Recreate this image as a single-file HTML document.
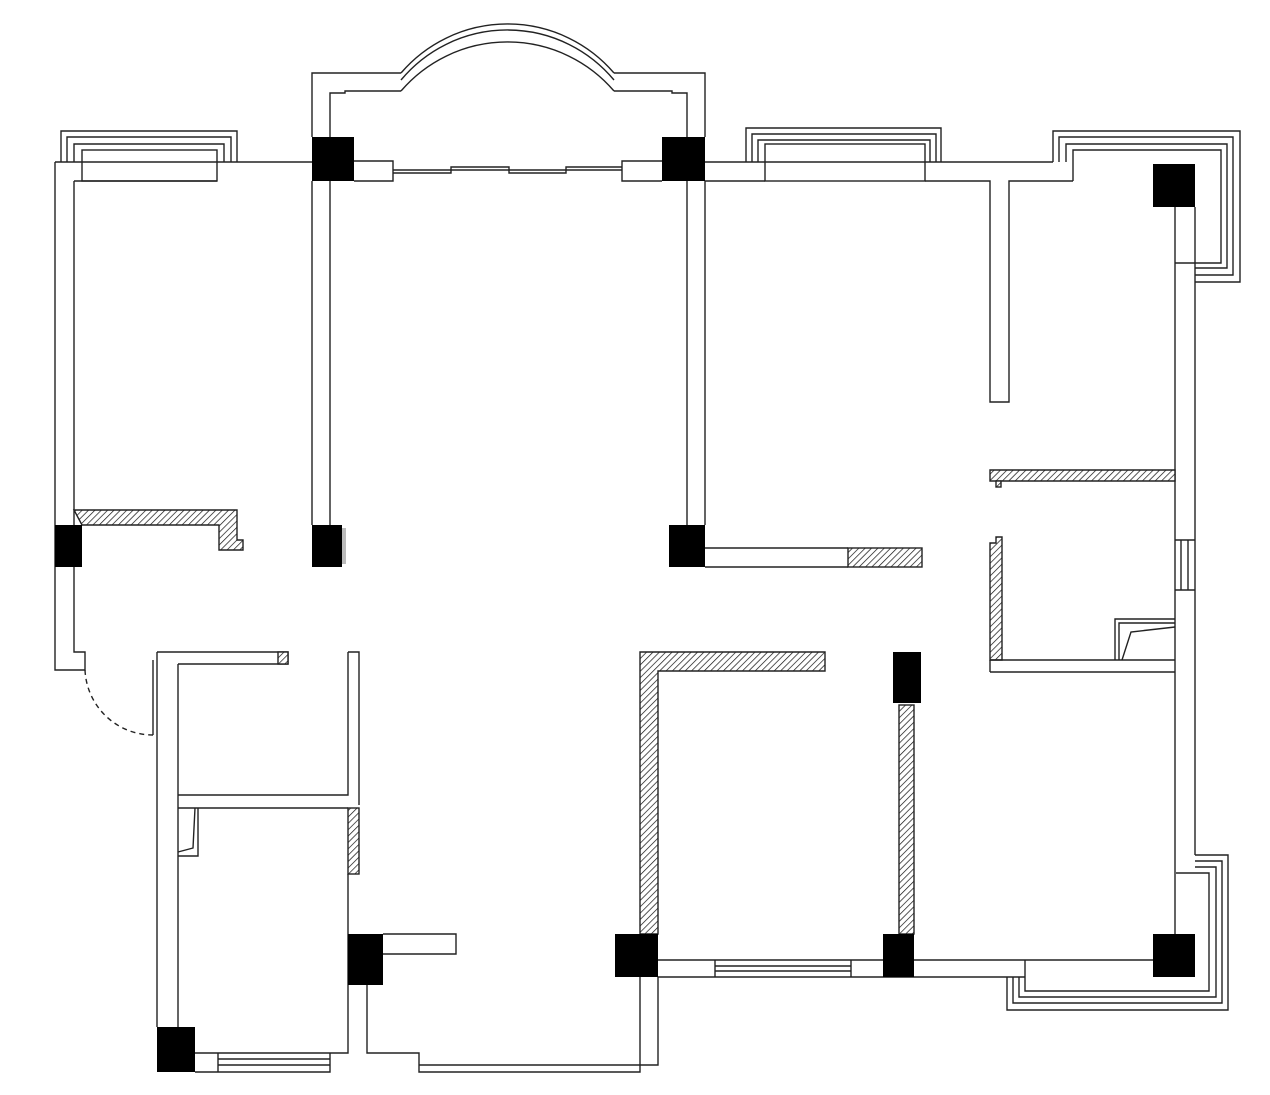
<!DOCTYPE html>
<html><head><meta charset="utf-8"><style>html,body{margin:0;padding:0;background:#fff}svg{display:block}</style></head>
<body>
<svg width="1270" height="1095" viewBox="0 0 1270 1095" xmlns="http://www.w3.org/2000/svg">
<defs>
<pattern id="h" width="4.5" height="4.5" patternUnits="userSpaceOnUse" patternTransform="rotate(45)">
<rect width="4.5" height="4.5" fill="#fff"/><line x1="0" y1="0" x2="0" y2="4.5" stroke="#111" stroke-width="1.4"/>
</pattern>
</defs>
<g fill="none" stroke="#222" stroke-width="1.4">
<path d="M61 162V131H237V162M67 162V137H231V162M74 162V144H224V162"/>
<rect x="82" y="150" width="135" height="31" fill="#fff"/>
<path d="M55 162H312M217 181H74M55 162V670H85V652H74V567M74 525V181"/>
<path d="M74 510H237V540H243V550H219V525H82Z" fill="url(#h)"/>
<path d="M312 137V73H401M614 73H705V137M330 137V93H345V91H401M614 91H672V93H687V137"/>
<path d="M401 73A140.2 140.2 0 0 1 614 73M401 80A138.4 138.4 0 0 1 614 80M401 91A140.2 140.2 0 0 1 614 91"/>
<path d="M354 161H393V181H354M662 161H622V181H662"/>
<path d="M393 170H451V167H509V170H566V167H622M393 173H451V170H509V173H566V170H622"/>
<path d="M312 181V525M330 181V525M687 181V525M705 181V525"/>
<path d="M705 548H848M705 567H848"/>
<rect x="848" y="548" width="74" height="19" fill="url(#h)"/>
<path d="M746 162V128H941V162M752 162V134H936V162M758 162V140H930V162"/>
<rect x="765" y="144" width="160" height="37" fill="#fff"/>
<path d="M705 162H1053M705 181H765M925 181H990V402H1009V181H1073"/>
<path d="M1053 162V131H1240V282H1195M1059 162V137H1233V275H1195M1066 162V144H1227V268H1195"/>
<path d="M1073 181V150H1221V263H1175"/>
<path d="M1175 207V960M1195 207V855"/>
<path d="M1175 540H1195M1175 590H1195M1181 540V590M1188 540V590"/>
<path d="M990 470H1175V481H990Z" fill="url(#h)"/>
<rect x="996" y="481" width="5" height="6" fill="url(#h)"/>
<path d="M990 660V543H996V537H1002V660Z" fill="url(#h)"/>
<path d="M990 660H1175M990 672H1175M990 660V672"/>
<path d="M1115 660V619H1175M1119 660V623H1175M1122 660L1131 632L1175 627"/>
<path d="M1195 855H1228V1010H1007V977M1195 861H1222V1003H1013V977M1195 867H1216V997H1019V977M1176 873H1209V991H1025V960"/>
<path d="M640 652H825V671H658V934H640Z" fill="url(#h)"/>
<rect x="899" y="705" width="15" height="229" fill="url(#h)"/>
<path d="M658 960H1153M658 977H1025M715 960V977M851 960V977M715 966H851M715 971H851"/>
<path d="M640 977V1072H419V1053H367V985M658 977V1065H419"/>
<path d="M383 934H456V954H383"/>
<path d="M178 664V1027M157 652V1027M157 652H288V664H178M348 652H359V805M348 652V795H178M178 808H348M348 874V985"/>
<rect x="278" y="652" width="10" height="12" fill="url(#h)"/>
<rect x="348" y="808" width="11" height="66" fill="url(#h)"/>
<path d="M178 856H198V808M178 852L193 848L195 808"/>
<path d="M153 660V735"/>
<path d="M195 1053H348V985M195 1072H330V1053M218 1053V1072M218 1059H330M218 1065H330"/>
<path d="M85 670A68 68 0 0 0 153 735" stroke-dasharray="5 4"/>
</g>
<g fill="#000">
<rect x="312" y="137" width="42" height="44"/>
<rect x="662" y="137" width="43" height="44"/>
<rect x="1153" y="164" width="42" height="43"/>
<rect x="55" y="525" width="27" height="42"/>
<rect x="312" y="525" width="30" height="42"/>
<rect x="669" y="525" width="36" height="42"/>
<rect x="893" y="652" width="28" height="51"/>
<rect x="615" y="934" width="43" height="43"/>
<rect x="883" y="934" width="31" height="43"/>
<rect x="1153" y="934" width="42" height="43"/>
<rect x="348" y="934" width="35" height="51"/>
<rect x="157" y="1027" width="38" height="45"/>
</g>
<rect x="342" y="528" width="4" height="36" fill="#bbb"/>
</svg>
</body></html>
